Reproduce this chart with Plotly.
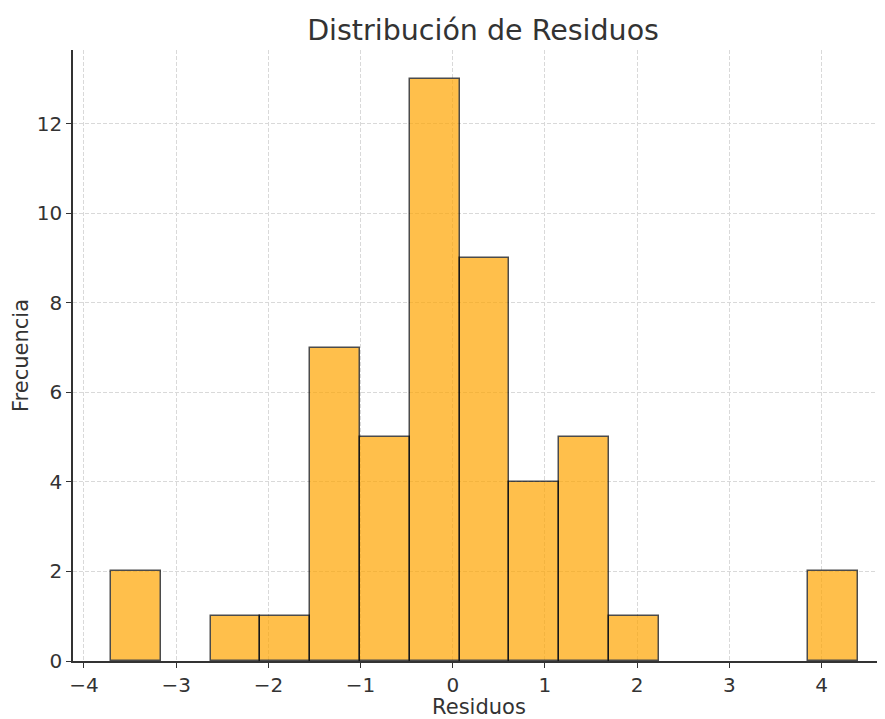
import plotly.graph_objects as go

bin_start = -3.707
bin_width = 0.5401
counts = [2, 0, 1, 1, 7, 5, 13, 9, 4, 5, 1, 0, 0, 0, 2]
centers = [bin_start + bin_width * (i + 0.5) for i in range(len(counts))]

x_ticks = [-4, -3, -2, -1, 0, 1, 2, 3, 4]
x_tick_labels = ["−4", "−3", "−2", "−1", "0", "1", "2", "3", "4"]
y_ticks = [0, 2, 4, 6, 8, 10, 12]

# empty bins are not drawn (avoid zero-height outlines)
bar_x = [c for c, n in zip(centers, counts) if n > 0]
bar_y = [n for n in counts if n > 0]

fig = go.Figure(go.Bar(
    x=bar_x, y=bar_y, width=bin_width,
    marker=dict(color="orange", opacity=0.7, line=dict(color="black", width=1.5)),
))

W, H = 877, 711  # page offsets the figure by 8px
font = "DejaVu Sans"
fig.update_layout(
    width=W, height=H,
    paper_bgcolor="white", plot_bgcolor="white",
    margin=dict(l=65, r=0, t=42, b=58),
    font=dict(family=font, color="#333333", size=20),
    title=dict(text="Distribución de Residuos", x=0.505, xref="paper", xanchor="center",
               y=1 - 22 / H, yref="container", yanchor="middle", font=dict(size=28.5, color="#333333")),
    showlegend=False,
    bargap=0,
)
fig.update_xaxes(
    range=[-4.119, 4.688], tickvals=x_ticks, ticktext=x_tick_labels,
    showgrid=True, gridcolor="#d9d9d9", griddash="4px,2px", gridwidth=1,
    showline=True, linecolor="#333333", linewidth=1.5,
    ticks="outside", ticklen=5, tickwidth=1.3, tickcolor="#333333",
    zeroline=False, automargin=False,
    title=dict(text="Residuos", font=dict(size=21), standoff=4),
)
fig.update_yaxes(
    range=[0, 13.65], tickvals=y_ticks,
    showgrid=True, gridcolor="#d9d9d9", griddash="4px,2px", gridwidth=1,
    showline=True, linecolor="#333333", linewidth=1.5,
    ticks="outside", ticklen=5, tickwidth=1.3, tickcolor="#333333",
    zeroline=False, automargin=False,
    title=dict(text="Frecuencia", font=dict(size=21), standoff=2),
)
fig.write_html("out.html")
